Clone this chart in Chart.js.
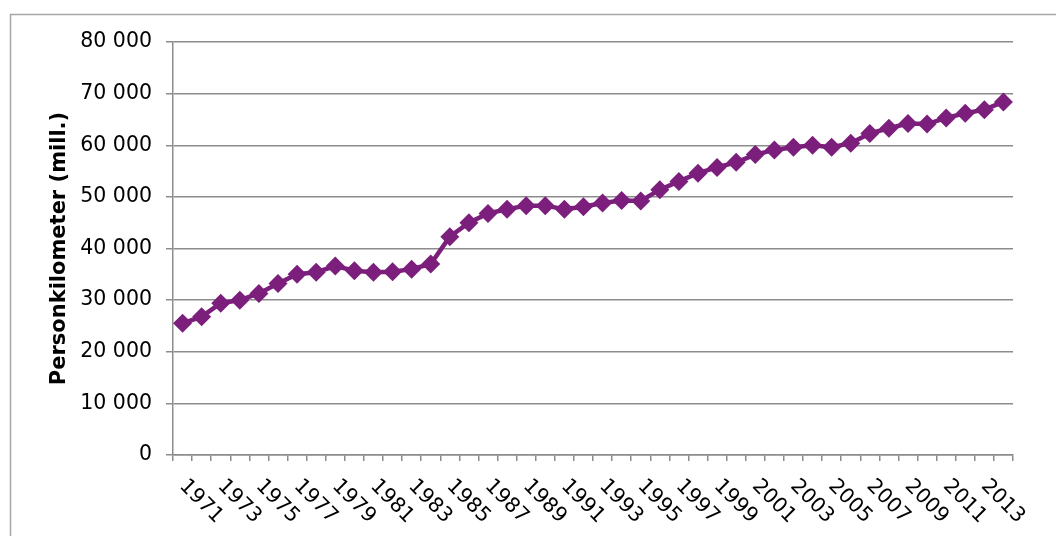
<!DOCTYPE html>
<html lang="no">
<head>
<meta charset="utf-8">
<title>Personkilometer</title>
<script src="https://cdn.jsdelivr.net/npm/chart.js@4.4.1/dist/chart.umd.min.js"></script>
<style>
    html, body { margin: 0; padding: 0; background: #fff; }
    #wrap { position: relative; width: 1056px; height: 536px; }
</style>
</head>
<body>
<div id="wrap"><canvas id="pkmChart"></canvas></div>
<script>
// Values
const years = [1971, 1972, 1973, 1974, 1975, 1976, 1977, 1978, 1979, 1980,
               1981, 1982, 1983, 1984, 1985, 1986, 1987, 1988, 1989, 1990,
               1991, 1992, 1993, 1994, 1995, 1996, 1997, 1998, 1999, 2000,
               2001, 2002, 2003, 2004, 2005, 2006, 2007, 2008, 2009, 2010,
               2011, 2012, 2013, 2014];
const personKm = [25500, 26800, 29400, 30000, 31300, 33200, 35000, 35400, 36600, 35700,
                  35400, 35500, 36000, 37000, 42300, 45000, 46800, 47600, 48300, 48300,
                  47600, 48100, 48800, 49300, 49200, 51400, 53000, 54600, 55700, 56700,
                  58200, 59100, 59600, 60000, 59600, 60400, 62300, 63300, 64200, 64100,
                  65300, 66200, 66900, 68400];
const yTicks = [0, 10000, 20000, 30000, 40000, 50000, 60000, 70000, 80000];
const yTitle = 'Personkilometer (mill.)';
const labelEvery = 2;

const purple = '#7c1f7c';
const gridGray = '#8c8c8c';
const fontFamily = '"DejaVu Sans", Verdana, sans-serif';

document.addEventListener('DOMContentLoaded', function() {
    drawChart();
});

// "80 000" style numbers
function formatThousands(v) {
    if (v < 1000) return String(v);
    return Math.floor(v / 1000) + ' ' + String(v % 1000).padStart(3, '0');
}

// Year labels sloping down to the right, every second year
const slantedYearLabels = {
    id: 'slantedYearLabels',
    afterDraw(chart) {
        const xScale = chart.scales.x;
        const ctx = chart.ctx;
        ctx.save();
        ctx.font = '20.5px ' + fontFamily;
        ctx.fillStyle = '#000';
        ctx.textAlign = 'left';
        ctx.textBaseline = 'middle';
        years.forEach((year, i) => {
            if (i % labelEvery !== 0) return;
            const x = xScale.getPixelForValue(i);
            ctx.save();
            ctx.translate(x, xScale.top + 28);
            ctx.rotate(Math.PI / 4);
            ctx.fillText(String(year), 0, 0);
            ctx.restore();
        });
        ctx.restore();
    }
};

// Frame round the chart, cut off at the right and bottom
const outerFrame = {
    id: 'outerFrame',
    beforeDraw(chart) {
        const ctx = chart.ctx;
        ctx.save();
        ctx.strokeStyle = '#a6a6a6';
        ctx.lineWidth = 1.5;
        ctx.strokeRect(10.5, 14.5, 1200, 700);
        ctx.restore();
    }
};

function drawChart() {
    const ctx = document.getElementById('pkmChart').getContext('2d');
    new Chart(ctx, {
        type: 'line',
        data: {
            labels: years.map(String),
            datasets: [{
                data: personKm,
                borderColor: purple,
                backgroundColor: purple,
                borderWidth: 4.5,
                pointStyle: 'rectRot',
                pointRadius: 9.5,
                pointBorderWidth: 0,
                pointBackgroundColor: purple,
                tension: 0
            }]
        },
        options: {
            responsive: true,
            maintainAspectRatio: false,
            animation: false,
            layout: {
                padding: { left: 0, top: 42, right: 43, bottom: 0 }
            },
            plugins: {
                legend: { display: false },
                tooltip: { enabled: false }
            },
            scales: {
                x: {
                    type: 'category',
                    offset: true,
                    grid: {
                        offset: true,
                        drawOnChartArea: false,
                        drawTicks: true,
                        tickLength: 6,
                        color: gridGray,
                        lineWidth: 1.5
                    },
                    border: { color: gridGray, width: 1.5 },
                    ticks: { display: false },
                    afterFit: function(scale) { scale.height = 81; }
                },
                y: {
                    min: yTicks[0],
                    max: yTicks[yTicks.length - 1],
                    afterBuildTicks: function(scale) {
                        scale.ticks = yTicks.map(v => ({ value: v }));
                    },
                    grid: {
                        color: gridGray,
                        lineWidth: 1.5,
                        drawTicks: true,
                        tickLength: 7
                    },
                    border: { color: gridGray, width: 1.5 },
                    ticks: {
                        color: '#000',
                        padding: 14,
                        font: { family: fontFamily, size: 20.5 },
                        callback: v => formatThousands(v)
                    },
                    title: {
                        display: true,
                        text: yTitle,
                        color: '#000',
                        font: { family: fontFamily, size: 21, weight: 'bold' },
                        padding: { top: 47, bottom: 0 }
                    },
                    afterFit: function(scale) { scale.width = 173; }
                }
            }
        },
        plugins: [outerFrame, slantedYearLabels]
    });
}
</script>
</body>
</html>
